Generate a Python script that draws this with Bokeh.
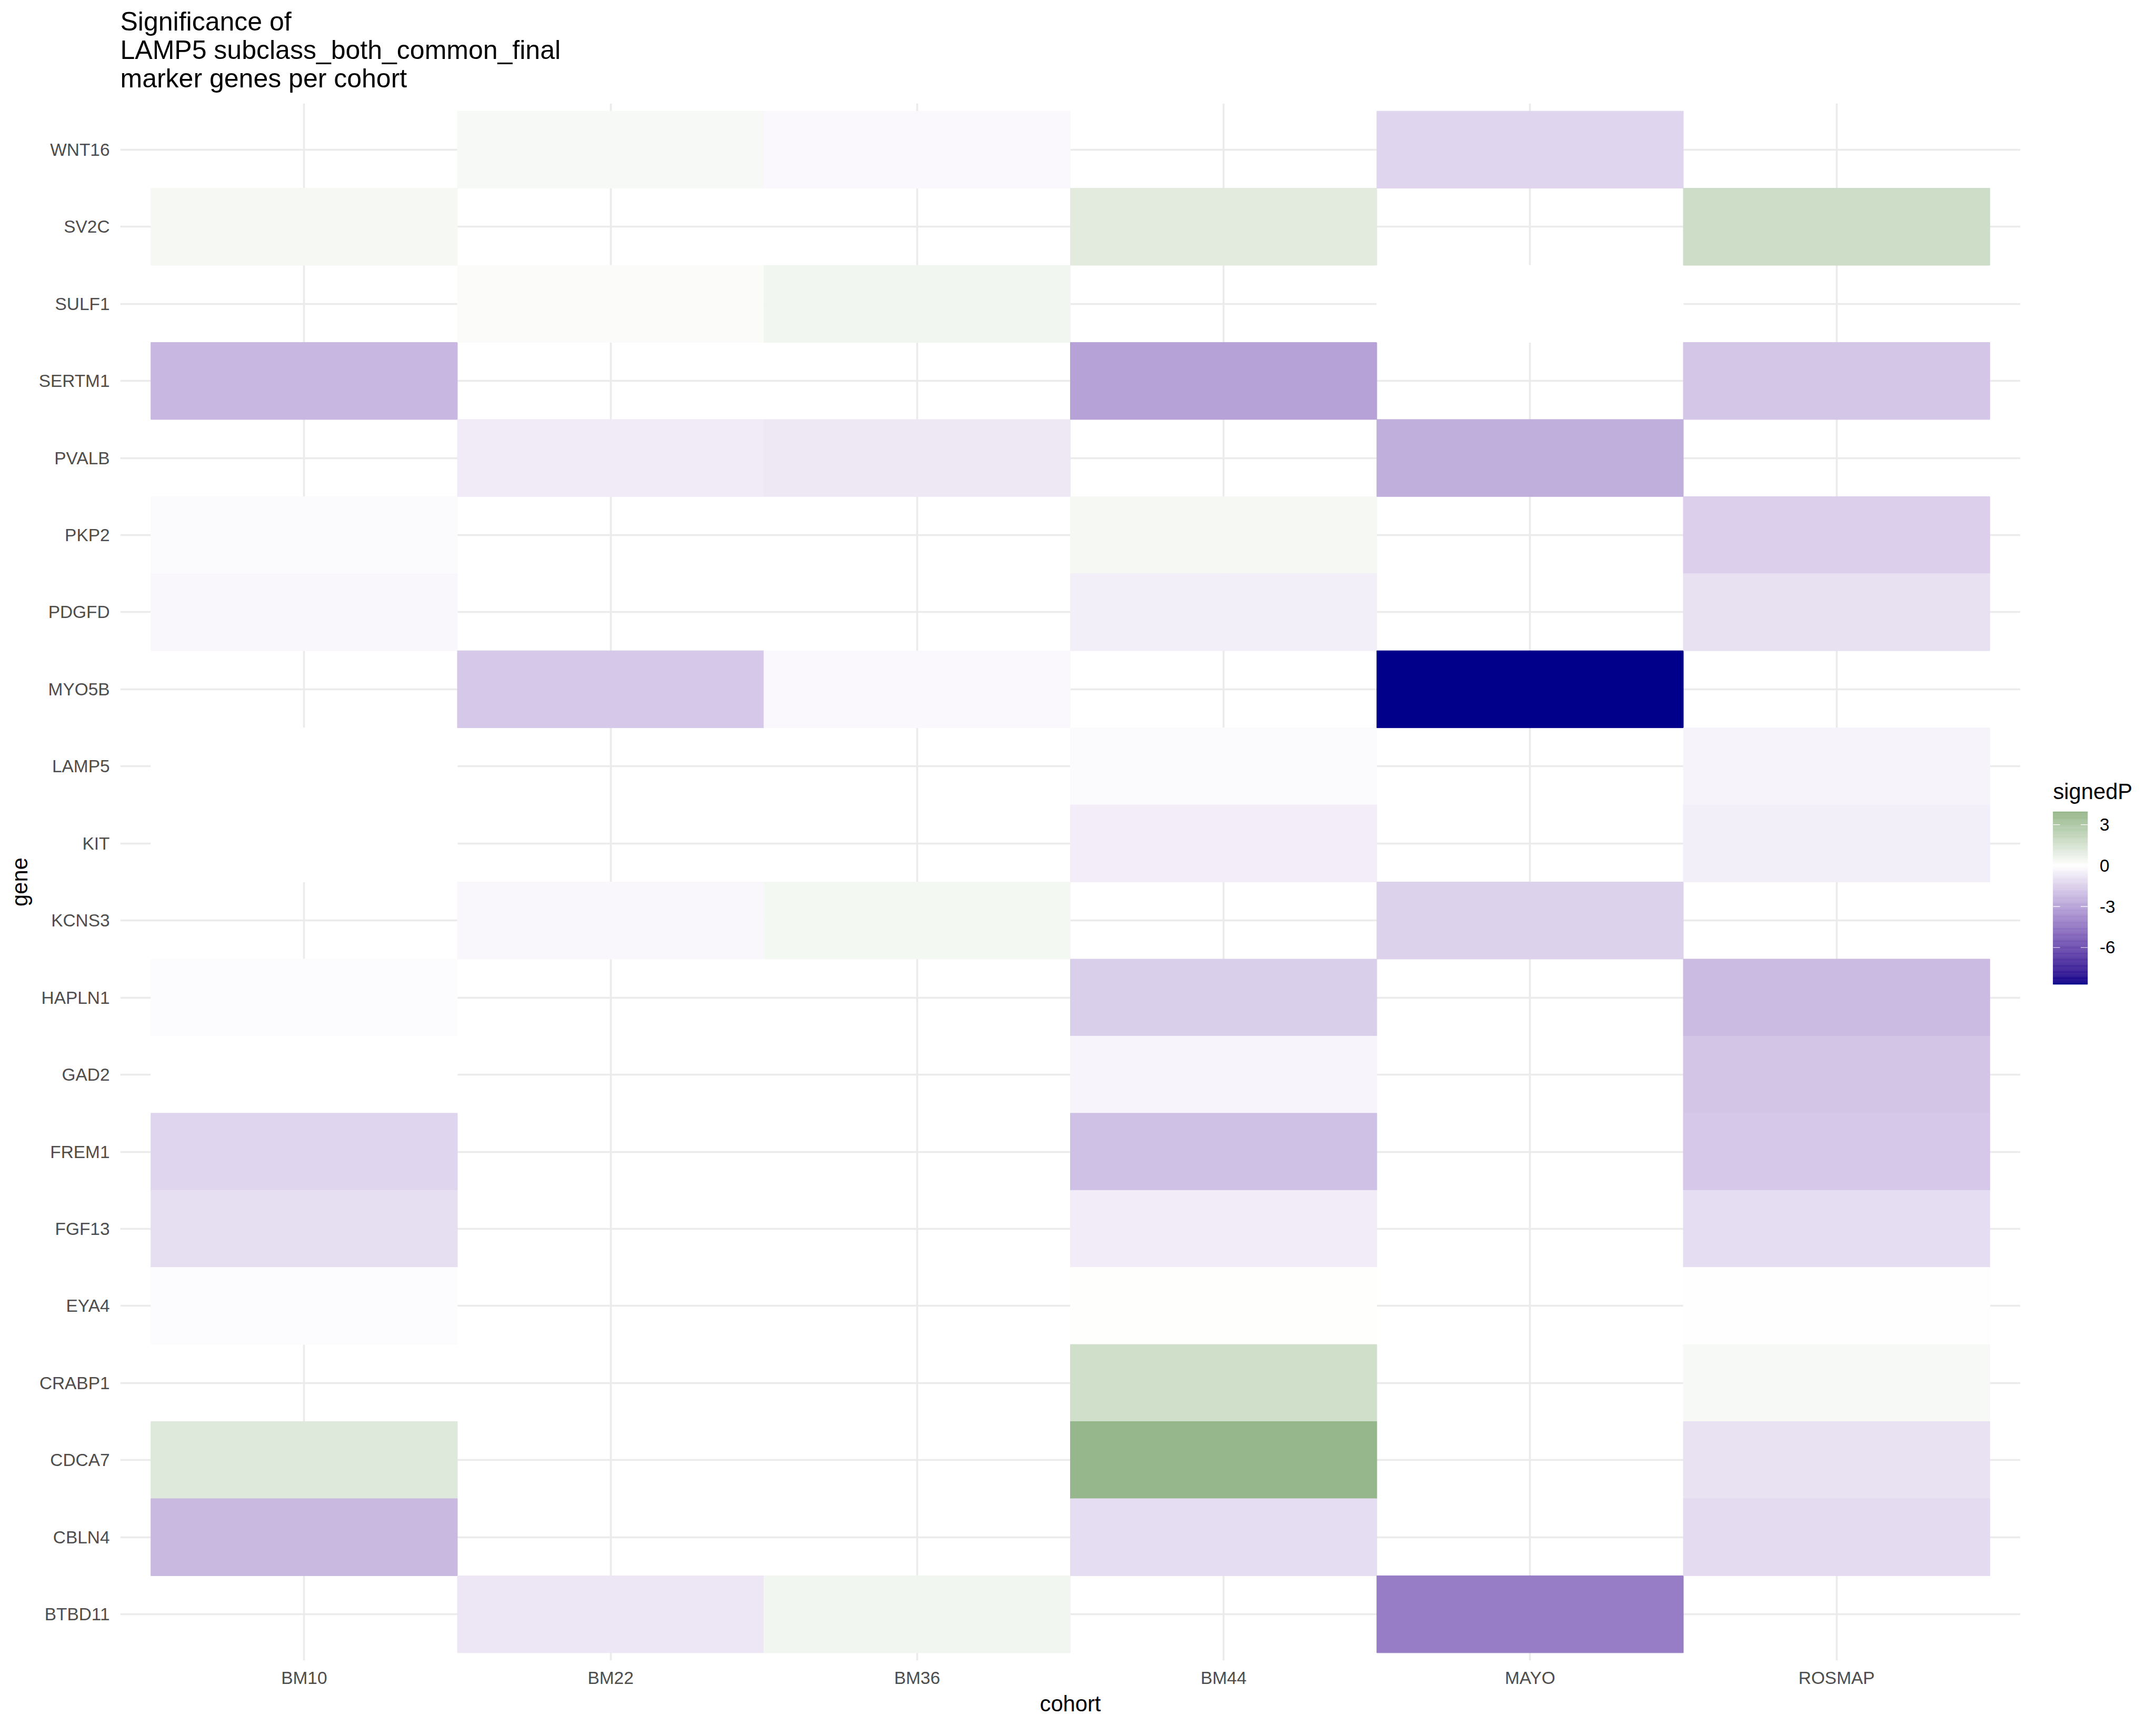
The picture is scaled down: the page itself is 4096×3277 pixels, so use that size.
import numpy as np
from bokeh.plotting import figure
from bokeh.layouts import row, column
from bokeh.models import ColumnDataSource, LinearColorMapper, FixedTicker, Range1d
from bokeh.core.properties import value
from bokeh.embed import file_html
from bokeh.resources import INLINE

# ---------------- data ----------------
cohorts = ["BM10", "BM22", "BM36", "BM44", "MAYO", "ROSMAP"]
genes = ["BTBD11", "CBLN4", "CDCA7", "CRABP1", "EYA4", "FGF13", "FREM1", "GAD2",
         "HAPLN1", "KCNS3", "KIT", "LAMP5", "MYO5B", "PDGFD", "PKP2", "PVALB",
         "SERTM1", "SULF1", "SV2C", "WNT16"]

bm10_genes = ["SV2C", "SERTM1", "PKP2", "PDGFD", "LAMP5", "KIT", "HAPLN1", "GAD2",
              "FREM1", "FGF13", "EYA4", "CDCA7", "CBLN4"]
bm10_vals = [0.38, -2.31, -0.17, -0.27, -0.01, -0.01, -0.12, 0.01,
             -1.34, -1.07, -0.12, 1.20, -2.28]

bm22_genes = ["WNT16", "SULF1", "PVALB", "MYO5B", "KCNS3", "BTBD11"]
bm22_vals = [0.33, 0.15, -0.64, -1.78, -0.27, -0.77]

bm36_genes = ["WNT16", "SULF1", "PVALB", "MYO5B", "KCNS3", "BTBD11"]
bm36_vals = [-0.23, 0.50, -0.74, -0.23, 0.40, 0.50]

bm44_genes = ["SV2C", "SERTM1", "PKP2", "PDGFD", "LAMP5", "KIT", "HAPLN1", "GAD2",
              "FREM1", "FGF13", "EYA4", "CRABP1", "CDCA7", "CBLN4"]
bm44_vals = [1.09, -3.05, 0.38, -0.50, -0.17, -0.57, -1.57, -0.33,
             -2.04, -0.60, 0.05, 1.74, 3.95, -1.10]

mayo_genes = ["WNT16", "SULF1", "PVALB", "MYO5B", "KCNS3", "BTBD11"]
mayo_vals = [-1.34, 0.02, -2.65, -8.70, -1.47, -4.35]

rosmap_genes = ["SV2C", "SERTM1", "PKP2", "PDGFD", "LAMP5", "KIT", "HAPLN1", "GAD2",
                "FREM1", "FGF13", "EYA4", "CRABP1", "CDCA7", "CBLN4"]
rosmap_vals = [1.85, -1.84, -1.54, -0.97, -0.37, -0.50, -2.21, -1.90,
               -1.78, -1.10, -0.03, 0.30, -0.94, -1.14]

legend_ticks = [-6, -3, 0, 3]
legend_title = "signedP"
title_lines = ["Significance of", "LAMP5 subclass_both_common_final",
               " marker genes per cohort"]

# ---------------- table ----------------
per_cohort = {
    "BM10": (bm10_genes, bm10_vals),
    "BM22": (bm22_genes, bm22_vals),
    "BM36": (bm36_genes, bm36_vals),
    "BM44": (bm44_genes, bm44_vals),
    "MAYO": (mayo_genes, mayo_vals),
    "ROSMAP": (rosmap_genes, rosmap_vals),
}
xs, ys, vs = [], [], []
for c in cohorts:
    gl, vl = per_cohort[c]
    for g, v in zip(gl, vl):
        xs.append(cohorts.index(c) + 1)
        ys.append(genes.index(g) + 1)
        vs.append(v)
src = ColumnDataSource(dict(x=xs, y=ys, val=vs))

# ---------------- colour scale (gradient2 in Lab) ----------------
def hex_to_lab(h):
    r, g, b = [int(h[i:i + 2], 16) / 255 for i in (1, 3, 5)]
    def lin(c):
        return c / 12.92 if c <= 0.04045 else ((c + 0.055) / 1.055) ** 2.4
    R, G, B = lin(r), lin(g), lin(b)
    X = 0.4124 * R + 0.3576 * G + 0.1805 * B
    Y = 0.2126 * R + 0.7152 * G + 0.0722 * B
    Z = 0.0193 * R + 0.1192 * G + 0.9505 * B
    def f(t):
        return t ** (1 / 3) if t > 0.008856 else 7.787 * t + 16 / 116
    fx, fy, fz = f(X / 0.95047), f(Y / 1.0), f(Z / 1.08883)
    return np.array([116 * fy - 16, 500 * (fx - fy), 200 * (fy - fz)])

def lab_to_hex(lab):
    L, a, b = lab
    fy = (L + 16) / 116
    fx = fy + a / 500
    fz = fy - b / 200
    def finv(t):
        return t ** 3 if t ** 3 > 0.008856 else (t - 16 / 116) / 7.787
    X, Y, Z = 0.95047 * finv(fx), finv(fy), 1.08883 * finv(fz)
    R = 3.2406 * X - 1.5372 * Y - 0.4986 * Z
    G = -0.9689 * X + 1.8758 * Y + 0.0415 * Z
    B = 0.0557 * X - 0.2040 * Y + 1.0570 * Z
    def gam(c):
        c = min(max(c, 0.0), 1.0)
        return 12.92 * c if c <= 0.0031308 else 1.055 * c ** (1 / 2.4) - 0.055
    return "#%02x%02x%02x" % tuple(int(round(gam(c) * 255)) for c in (R, G, B))

low_lab = hex_to_lab("#00008B")
mid_lab = hex_to_lab("#FFFFFF")
high_lab = hex_to_lab("#006400")
vmin, vmax = min(vs), max(vs)
m = max(abs(vmin), abs(vmax))
N = 1024
palette = []
for i in range(N):
    v = vmin + (i + 0.5) * (vmax - vmin) / N
    t = 0.5 + v / (2 * m)
    if t < 0.5:
        lab = low_lab + (mid_lab - low_lab) * (t / 0.5)
    else:
        lab = mid_lab + (high_lab - mid_lab) * ((t - 0.5) / 0.5)
    palette.append(lab_to_hex(lab))
mapper = LinearColorMapper(palette=palette, low=vmin, high=vmax)

FONT = "Liberation Sans"
W, H = 4096, 3277
TOP = 196
BOTTOM = 123
LEG_W = 258
MAIN_W = W - LEG_W
BODY_H = H - TOP
FRAME_L = 228

def bare_figure(w, h, y_start=0, mb_bottom=0):
    fig = figure(width=w, height=h, x_range=Range1d(0, w), y_range=Range1d(y_start, h),
                 x_axis_type=None, y_axis_type=None,
                 title=None, output_backend="svg", toolbar_location=None,
                 min_border_left=0, min_border_right=0,
                 min_border_top=0, min_border_bottom=mb_bottom)
    fig.outline_line_color = None
    fig.background_fill_color = "white"
    fig.border_fill_color = "white"
    return fig

# ---------------- title strip ----------------
tfig = bare_figure(W, TOP)
title_baselines = [58.2, 111.9, 165.6]
title_mid = [TOP - (b - 0.3465 * 50) for b in title_baselines]
tfig.text(x=[FRAME_L] * 3, y=title_mid, text=title_lines,
          text_font=value(FONT), text_font_size=value("50px"), text_color="black",
          text_align="left", text_baseline="middle")

# ---------------- main heatmap ----------------
p = figure(width=MAIN_W, height=BODY_H,
           x_range=Range1d(0.4, len(cohorts) + 0.6),
           y_range=Range1d(0.4, len(genes) + 0.6),
           title=None, output_backend="svg", toolbar_location=None,
           min_border_left=FRAME_L, min_border_right=0,
           min_border_top=0, min_border_bottom=BOTTOM)
p.outline_line_color = None
p.background_fill_color = "white"
p.border_fill_color = "white"

p.rect(x="x", y="y", width=1, height=1, source=src,
       fill_color={"field": "val", "transform": mapper},
       line_color={"field": "val", "transform": mapper}, line_width=1)

xt = list(range(1, len(cohorts) + 1))
yt = list(range(1, len(genes) + 1))
p.xaxis.ticker = FixedTicker(ticks=xt)
p.yaxis.ticker = FixedTicker(ticks=yt)
p.xaxis.major_label_overrides = {i + 1: c for i, c in enumerate(cohorts)}
p.yaxis.major_label_overrides = {i + 1: g for i, g in enumerate(genes)}
p.xgrid.ticker = FixedTicker(ticks=xt)
p.ygrid.ticker = FixedTicker(ticks=yt)
for gr in (p.xgrid, p.ygrid):
    gr.grid_line_color = "#EBEBEB"
    gr.grid_line_width = 3.7

for ax in (p.xaxis, p.yaxis):
    ax.axis_line_color = None
    ax.major_tick_line_color = None
    ax.minor_tick_line_color = None
    ax.major_tick_in = 0
    ax.major_tick_out = 0
    ax.minor_tick_in = 0
    ax.minor_tick_out = 0
    ax.major_label_text_font = FONT
    ax.major_label_text_font_size = "33.4px"
    ax.major_label_text_color = "#4D4D4D"
    ax.axis_label_text_font = FONT
    ax.axis_label_text_font_size = "41.7px"
    ax.axis_label_text_font_style = "normal"
    ax.axis_label_text_color = "black"
p.xaxis.axis_label = "cohort"
p.yaxis.axis_label = "gene"
p.xaxis.major_label_standoff = 14
p.yaxis.major_label_standoff = 20
p.xaxis.axis_label_standoff = 4
p.yaxis.axis_label_standoff = 10

# ---------------- legend (colour bar) ----------------
# its frame lines up with the heatmap frame (canvas y 196 .. 3154)
q = bare_figure(LEG_W, BODY_H, y_start=BOTTOM, mb_bottom=BOTTOM)

bar_l, bar_r = 62.0, 127.5
bar_b, bar_t = H - 1869.5, H - 1541.5
nb = 300
edges = np.linspace(vmin, vmax, nb + 1)
centers = (edges[:-1] + edges[1:]) / 2
ypos = bar_b + (edges - vmin) / (vmax - vmin) * (bar_t - bar_b)
bar_src = ColumnDataSource(dict(v=centers, bottom=ypos[:-1], top=ypos[1:]))
q.quad(left=bar_l, right=bar_r, bottom="bottom", top="top", source=bar_src,
       fill_color={"field": "v", "transform": mapper},
       line_color={"field": "v", "transform": mapper}, line_width=0.6)

tick_y = [bar_b + (t - vmin) / (vmax - vmin) * (bar_t - bar_b) for t in legend_ticks]
tl = 0.2 * (bar_r - bar_l)
q.segment(x0=[bar_l] * len(tick_y), x1=[bar_l + tl] * len(tick_y), y0=tick_y, y1=tick_y,
          line_color="white", line_width=1.2)
q.segment(x0=[bar_r - tl] * len(tick_y), x1=[bar_r] * len(tick_y), y0=tick_y, y1=tick_y,
          line_color="white", line_width=1.2)
q.text(x=[bar_r + 23] * len(tick_y), y=tick_y, text=[str(t) for t in legend_ticks],
       text_font=value(FONT), text_font_size=value("33.4px"), text_color="black",
       text_align="left", text_baseline="middle")
q.text(x=[bar_l], y=[H - (1517 - 0.3465 * 41.7)], text=[legend_title],
       text_font=value(FONT), text_font_size=value("41.7px"), text_color="black",
       text_align="left", text_baseline="middle")

layout = column(tfig, row(p, q, spacing=0), spacing=0)
open("out.html", "w").write(file_html(layout, INLINE))
